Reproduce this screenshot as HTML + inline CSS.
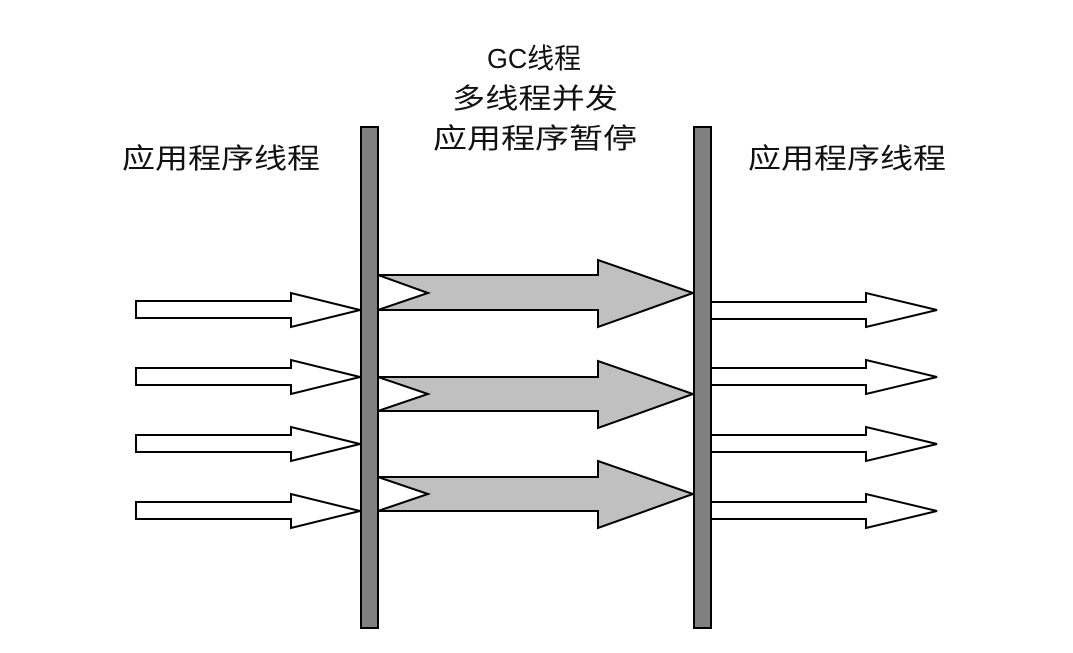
<!DOCTYPE html>
<html><head><meta charset="utf-8"><style>body{margin:0;background:#fff}svg{display:block}</style></head>
<body>
<svg width="1073" height="653" viewBox="0 0 1073 653" xmlns="http://www.w3.org/2000/svg">
<g font-family="'Liberation Sans','Noto Sans CJK SC',sans-serif" font-size="28" fill="#111">
<text x="122" y="168" textLength="198" lengthAdjust="spacingAndGlyphs">应用程序线程</text>
<text x="748" y="168" textLength="198" lengthAdjust="spacingAndGlyphs">应用程序线程</text>
<text x="487" y="68" textLength="94" lengthAdjust="spacingAndGlyphs">GC线程</text>
<text x="452" y="108" textLength="166" lengthAdjust="spacingAndGlyphs">多线程并发</text>
<text x="433" y="148" textLength="204" lengthAdjust="spacingAndGlyphs">应用程序暂停</text>
</g>
<g fill="#fff" stroke="#000" stroke-width="2">
<polygon points="136,301 291,301 291,293 360,310 291,327 291,318 136,318"/>
<polygon points="136,368 291,368 291,360 360,377 291,394 291,385 136,385"/>
<polygon points="136,435 291,435 291,427 360,444 291,461 291,452 136,452"/>
<polygon points="136,502 291,502 291,494 360,511 291,528 291,519 136,519"/>
<polygon points="711,302 866,302 866,293 937,310 866,327 866,319 711,319"/>
<polygon points="711,368 866,368 866,360 937,377 866,394 866,385 711,385"/>
<polygon points="711,435 866,435 866,427 937,444 866,461 866,452 711,452"/>
<polygon points="711,502 866,502 866,494 937,511 866,528 866,519 711,519"/>
</g>
<g fill="#c0c0c0" stroke="#000" stroke-width="2">
<polygon points="378,275 598,275 598,260 693,293 598,327 598,310 378,310 428,293"/>
<polygon points="378,377 598,377 598,361 693,394 598,428 598,411 378,411 428,394"/>
<polygon points="378,477 598,477 598,461 693,494 598,528 598,511 378,511 428,494"/>
</g>
<rect x="361" y="127" width="17" height="501" fill="#808080" stroke="#000" stroke-width="2"/>
<rect x="694" y="127" width="17" height="501" fill="#808080" stroke="#000" stroke-width="2"/>
</svg>
</body></html>
